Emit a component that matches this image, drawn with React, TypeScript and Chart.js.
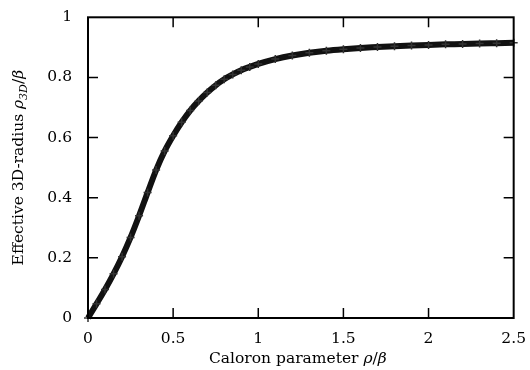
import React, { useEffect, useRef } from "react";
import { Chart, registerables } from "chart.js";
Chart.register(...registerables);

const rhoValues = [
  0, 0.05, 0.1, 0.15, 0.2, 0.25, 0.3, 0.35, 0.4, 0.45, 0.5, 0.55, 0.6, 0.65,
  0.7, 0.75, 0.8, 0.85, 0.9, 0.95, 1.0, 1.1, 1.2, 1.3, 1.4, 1.5, 1.6, 1.7, 1.8,
  1.9, 2.0, 2.1, 2.2, 2.3, 2.4, 2.5,
];
const radiusValues = [
  0, 0.047, 0.095, 0.147, 0.204, 0.268, 0.34, 0.417, 0.492, 0.555, 0.606, 0.651,
  0.69, 0.722, 0.75, 0.774, 0.794, 0.81, 0.824, 0.835, 0.845, 0.861, 0.873,
  0.882, 0.889, 0.894, 0.898, 0.901, 0.904, 0.906, 0.908, 0.91, 0.911, 0.913,
  0.914, 0.915,
];
const xTickValues = [0, 0.5, 1, 1.5, 2, 2.5];
const yTickValues = [0, 0.2, 0.4, 0.6, 0.8, 1];
const xTitleParts = [
  { text: "Caloron parameter ", style: "normal" },
  { text: "ρ", style: "italic" },
  { text: "/", style: "normal" },
  { text: "β", style: "italic" },
];
const yTitleParts = [
  { text: "Effective 3D-radius ", style: "normal" },
  { text: "ρ", style: "italic" },
  { text: "3D", style: "sub" },
  { text: "/", style: "normal" },
  { text: "β", style: "italic" },
];

const FAMILY = "'DejaVu Serif'";
const SIZE = 15.5;

function fontFor(style: string) {
  if (style === "italic") return `italic ${SIZE}px ${FAMILY}`;
  if (style === "sub") return `italic 11px ${FAMILY}`;
  return `${SIZE}px ${FAMILY}`;
}

function drawParts(ctx: CanvasRenderingContext2D, parts: { text: string; style: string }[]) {
  let total = 0;
  for (const p of parts) {
    ctx.font = fontFor(p.style);
    total += ctx.measureText(p.text).width;
  }
  let x = -total / 2;
  for (const p of parts) {
    ctx.font = fontFor(p.style);
    ctx.fillText(p.text, x, p.style === "sub" ? 4 : 0);
    x += ctx.measureText(p.text).width;
  }
}

const framePlugin = {
  id: "frame",
  afterDraw(chart: any) {
    const { ctx, chartArea, scales } = chart;
    const { left, right, top, bottom } = chartArea;
    ctx.save();
    ctx.strokeStyle = "#000";
    ctx.lineWidth = 2;
    ctx.strokeRect(left, top, right - left, bottom - top);
    ctx.lineWidth = 1.5;
    const tl = 10;
    ctx.beginPath();
    for (const v of xTickValues) {
      const px = scales.x.getPixelForValue(v);
      if (Math.abs(px - left) < 2 || Math.abs(px - right) < 2) continue;
      ctx.moveTo(px, bottom);
      ctx.lineTo(px, bottom - tl);
      ctx.moveTo(px, top);
      ctx.lineTo(px, top + tl);
    }
    for (const v of yTickValues) {
      const py = scales.y.getPixelForValue(v);
      if (Math.abs(py - top) < 2 || Math.abs(py - bottom) < 2) continue;
      ctx.moveTo(left, py);
      ctx.lineTo(left + tl, py);
      ctx.moveTo(right, py);
      ctx.lineTo(right - tl, py);
    }
    ctx.stroke();

    ctx.fillStyle = "#000";
    ctx.textBaseline = "alphabetic";
    ctx.textAlign = "left";
    ctx.save();
    ctx.translate((left + right) / 2 - 3, 363);
    drawParts(ctx, xTitleParts);
    ctx.restore();
    ctx.save();
    ctx.translate(23, (top + bottom) / 2);
    ctx.rotate(-Math.PI / 2);
    drawParts(ctx, yTitleParts);
    ctx.restore();
    ctx.restore();
  },
};

export default function App() {
  const ref = useRef<HTMLCanvasElement | null>(null);
  useEffect(() => {
    if (!ref.current) return;
    const data = rhoValues.map((x, i) => ({ x, y: radiusValues[i] }));
    const chart = new Chart(ref.current, {
      type: "scatter",
      data: {
        datasets: [
          {
            data,
            showLine: true,
            borderColor: "#111",
            borderWidth: 6,
            pointStyle: "cross",
            pointRadius: 4,
            pointBorderWidth: 1.5,
            pointBorderColor: "#333",
            pointBackgroundColor: "#333",
            cubicInterpolationMode: "monotone",
            clip: false as any,
          },
        ],
      },
      options: {
        animation: false,
        responsive: false,
        layout: { padding: { top: 14, right: 16, left: 0, bottom: 0 } },
        plugins: { legend: { display: false }, tooltip: { enabled: false } },
        scales: {
          x: {
            type: "linear",
            min: 0,
            max: 2.5,
            grid: { display: false },
            border: { display: false },
            afterBuildTicks(scale: any) {
              scale.ticks = xTickValues.map((value) => ({ value }));
            },
            ticks: {
              padding: 4,
              color: "#000",
              font: { family: "DejaVu Serif", size: SIZE },
              callback: (v: any) => String(Number(v)),
            },
            afterFit(scale: any) {
              scale.height = 52;
            },
          },
          y: {
            type: "linear",
            min: 0,
            max: 1,
            grid: { display: false },
            border: { display: false },
            afterBuildTicks(scale: any) {
              scale.ticks = yTickValues.map((value) => ({ value }));
            },
            ticks: {
              padding: 8,
              color: "#000",
              font: { family: "DejaVu Serif", size: SIZE },
              callback: (v: any) => String(Number(v)),
            },
            afterFit(scale: any) {
              scale.width = 88;
            },
          },
        },
      },
      plugins: [framePlugin],
    });
    return () => chart.destroy();
  }, []);
  return (
    <div style={{ position: "fixed", left: 0, top: 0, width: 530, height: 370, background: "#fff" }}>
      <canvas ref={ref} width={530} height={370} style={{ width: 530, height: 370 }} />
    </div>
  );
}
